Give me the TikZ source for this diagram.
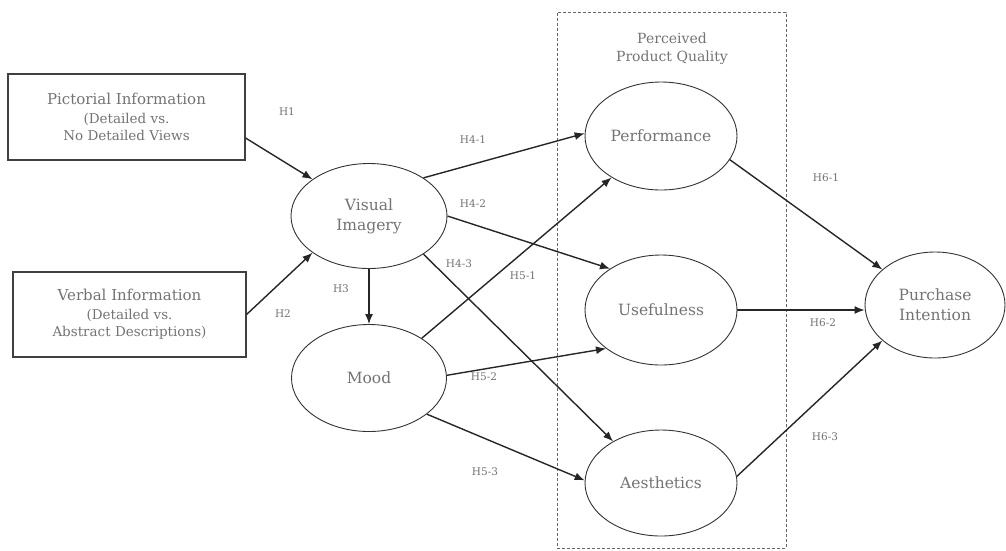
\documentclass[tikz,border=0pt]{standalone}
\usepackage{fontspec}
\setmainfont{DejaVu Serif}
\usetikzlibrary{arrows.meta,shapes.geometric}
\begin{document}
\begin{tikzpicture}[x=1pt,y=-1pt,
  txt/.style={text=black!55},
  infobox/.style={draw=black!75,line width=1.1pt,minimum width=236pt,minimum height=86pt,align=center,txt,font=\fontsize{15}{17}\selectfont},
  construct/.style={ellipse,draw=black!80,line width=0.9pt,align=center,txt,font=\fontsize{15.5}{20}\selectfont},
  path/.style={draw=black!85,line width=1.4pt,-{Latex[length=10pt,width=8pt]}},
  hlab/.style={txt,font=\fontsize{10.5}{12}\selectfont}]
\useasboundingbox (0,0) rectangle (1006,550);
% dashed group
\node[draw=black!60,line width=1pt,dash pattern=on 3pt off 2pt,minimum width=229pt,minimum height=536pt] (grp) at (671.5,280) {};
\node[txt,align=center,font=\fontsize{14}{18}\selectfont] (grptitle) at (672,49) {Perceived\\Product Quality};
% boxes
\node[infobox,minimum width=237pt] (pict) at (126.5,117) {Pictorial Information\\[2pt]{\fontsize{13.5}{17}\selectfont (Detailed vs.}\\{\fontsize{13.5}{17}\selectfont No Detailed Views}};
\node[infobox,minimum width=233pt,minimum height=85pt] (verb) at (129.5,314.5) {Verbal Information\\[2pt]{\fontsize{13.5}{17}\selectfont (Detailed vs.}\\{\fontsize{13.5}{17}\selectfont Abstract Descriptions)}};
% ellipses
\node[construct,minimum width=156pt,minimum height=105pt] (vis) at (369,216) {Visual\\Imagery};
\node[construct,minimum width=155pt,minimum height=107pt] (mood) at (369,378) {Mood};
\node[construct,minimum width=152pt,minimum height=108pt] (perf) at (661,136) {Performance};
\node[construct,minimum width=152pt,minimum height=110pt] (usef) at (661,310) {Usefulness};
\node[construct,minimum width=152pt,minimum height=106pt] (aest) at (661,483) {Aesthetics};
\node[construct,minimum width=140pt,minimum height=106pt] (purch) at (935,305) {Purchase\\Intention};
% paths
\draw[path] (pict.east |- 0,138) -- (vis.147);
\draw[path] (verb.east) -- (vis.213);
\draw[path] (vis.south) -- (mood.north);
\draw[path] (vis.35) -- (perf.178);
\draw[path] (vis.0) -- (usef.141);
\draw[path] (vis.-35) -- (aest.139);
\draw[path] (mood.37) -- (perf.220);
\draw[path] (mood.2) -- (usef.215);
\draw[path] (mood.-32) -- (aest.178);
\draw[path] (perf.-19) -- (purch.146);
\draw[path] (usef.east) -- (usef.east -| purch.west);
\draw[path] (aest.5) -- (purch.214);
% labels
\node[hlab] (l1) at (287,112) {H1};
\node[hlab] (l2) at (283,314) {H2};
\node[hlab] (l3) at (341,289) {H3};
\node[hlab] (l41) at (473,140) {H4-1};
\node[hlab] (l42) at (473,204) {H4-2};
\node[hlab] (l43) at (459,264) {H4-3};
\node[hlab] (l51) at (523,276) {H5-1};
\node[hlab] (l52) at (484,377) {H5-2};
\node[hlab] (l53) at (485,472) {H5-3};
\node[hlab] (l61) at (826,178) {H6-1};
\node[hlab] (l62) at (823,323) {H6-2};
\node[hlab] (l63) at (825,437) {H6-3};
\end{tikzpicture}
\end{document}
